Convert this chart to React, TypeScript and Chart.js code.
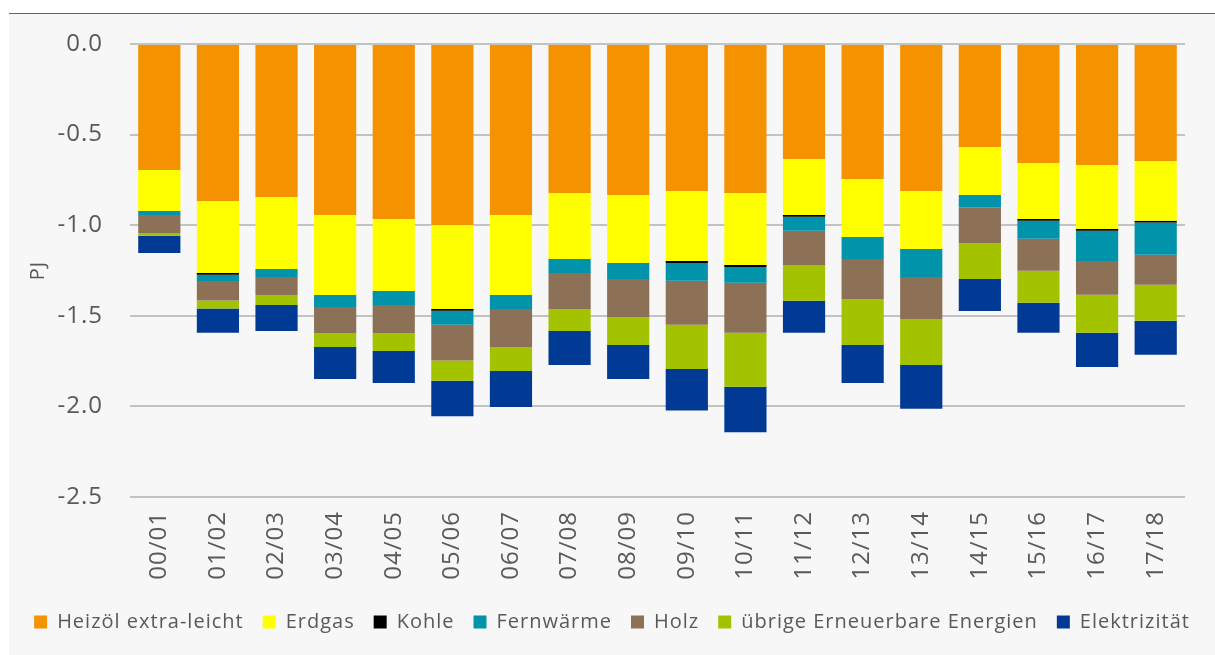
import React, { useEffect, useRef } from "react";
import { Chart, registerables } from "chart.js";

Chart.register(...registerables);

const categories = ["00/01", "01/02", "02/03", "03/04", "04/05", "05/06", "06/07", "07/08", "08/09", "09/10", "10/11", "11/12", "12/13", "13/14", "14/15", "15/16", "16/17", "17/18"];

const heizoel = [-0.695, -0.866, -0.844, -0.944, -0.966, -0.999, -0.944, -0.822, -0.833, -0.811, -0.822, -0.635, -0.745, -0.811, -0.568, -0.657, -0.668, -0.646];
const erdgas = [-0.227, -0.398, -0.398, -0.441, -0.397, -0.463, -0.441, -0.365, -0.376, -0.387, -0.398, -0.309, -0.320, -0.320, -0.265, -0.309, -0.353, -0.329];
const kohle = [0, -0.009, 0, 0, 0, -0.01, 0, 0, 0, -0.01, -0.01, -0.01, 0, 0, 0, -0.01, -0.01, -0.01];
const fernwaerme = [-0.022, -0.035, -0.044, -0.066, -0.077, -0.077, -0.077, -0.077, -0.088, -0.099, -0.088, -0.077, -0.122, -0.155, -0.068, -0.099, -0.166, -0.178];
const holz = [-0.099, -0.108, -0.099, -0.144, -0.155, -0.198, -0.210, -0.198, -0.210, -0.243, -0.276, -0.188, -0.220, -0.232, -0.197, -0.177, -0.187, -0.166];
const uebrige = [-0.015, -0.044, -0.055, -0.077, -0.099, -0.111, -0.133, -0.122, -0.154, -0.243, -0.298, -0.198, -0.254, -0.254, -0.199, -0.176, -0.210, -0.199];
const elektrizitaet = [-0.095, -0.133, -0.144, -0.177, -0.177, -0.197, -0.198, -0.188, -0.188, -0.230, -0.250, -0.177, -0.210, -0.241, -0.177, -0.166, -0.188, -0.187];

const seriesNames = ["Heizöl extra-leicht", "Erdgas", "Kohle", "Fernwärme", "Holz", "übrige Erneuerbare Energien", "Elektrizität"];
const seriesColors = ["#f59200", "#ffff00", "#000000", "#0093aa", "#8c7156", "#a3c200", "#003a95"];

const FONT = "'Open Sans', sans-serif";
const TEXT = "#595959";

const letterSpacingPlugin = {
  id: "letterSpacing",
  beforeLayout(chart: any) {
    chart.ctx.letterSpacing = "1px";
  },
  beforeDraw(chart: any) {
    chart.ctx.letterSpacing = "1px";
  },
};

export default function App() {
  const ref = useRef<HTMLCanvasElement | null>(null);

  useEffect(() => {
    document.body.style.margin = "0";
    const canvas = ref.current;
    if (!canvas) return;
    const values = [heizoel, erdgas, kohle, fernwaerme, holz, uebrige, elektrizitaet];
    const chart = new Chart(canvas, {
      type: "bar",
      plugins: [letterSpacingPlugin],
      data: {
        labels: categories,
        datasets: values.map((v, i) => ({
          label: seriesNames[i],
          data: v,
          backgroundColor: seriesColors[i],
          borderWidth: 0,
          categoryPercentage: 1,
          barPercentage: 0.72,
          yAxisID: "y",
        })),
      },
      options: {
        responsive: false,
        animation: false,
        layout: { padding: { left: 0, right: 0, top: 30, bottom: 13 } },
        plugins: {
          tooltip: { enabled: false },
          legend: {
            position: "bottom",
            labels: {
              boxWidth: 13,
              boxHeight: 13,
              padding: 19,
              color: TEXT,
              font: { family: FONT, size: 20 },
            },
          },
        },
        scales: {
          x: {
            stacked: true,
            grid: { display: false, drawTicks: false },
            border: { display: false },
            ticks: {
              color: TEXT,
              font: { family: FONT, size: 24 },
              minRotation: 90,
              maxRotation: 90,
              padding: 14,
              autoSkip: false,
            },
            afterFit: (s: any) => {
              s.height = 96;
            },
          },
          y: {
            stacked: true,
            min: -2.5,
            max: 0,
            grid: { color: "#c3c3c3", lineWidth: 2, drawTicks: false },
            border: { display: false },
            ticks: {
              stepSize: 0.5,
              color: TEXT,
              font: { family: FONT, size: 24 },
              padding: 27,
              callback: (v: any) => Number(v).toFixed(1),
            },
            title: {
              display: true,
              text: "PJ",
              color: TEXT,
              font: { family: FONT, size: 20 },
              padding: { top: 17, bottom: 0 },
            },
            afterFit: (s: any) => {
              s.width = 121;
              s.paddingTop = 0;
              s.paddingBottom = 0;
            },
          },
          yRight: {
            position: "right",
            min: -2.5,
            max: 0,
            grid: { display: false, drawTicks: false },
            border: { display: false },
            ticks: { display: false },
            afterFit: (s: any) => {
              s.width = 30;
              s.paddingTop = 0;
              s.paddingBottom = 0;
            },
          },
        },
      },
    });
    return () => chart.destroy();
  }, []);

  return (
    <div style={{ position: "relative", width: 1215, height: 655, background: "#ffffff", overflow: "hidden" }}>
      <div
        style={{
          position: "absolute",
          left: 9,
          top: 13,
          width: 1206,
          height: 642,
          background: "#f7f7f7",
          borderTop: "1px solid #5d6670",
        }}
      >
        <canvas ref={ref} width={1206} height={641} style={{ display: "block" }} />
      </div>
    </div>
  );
}
